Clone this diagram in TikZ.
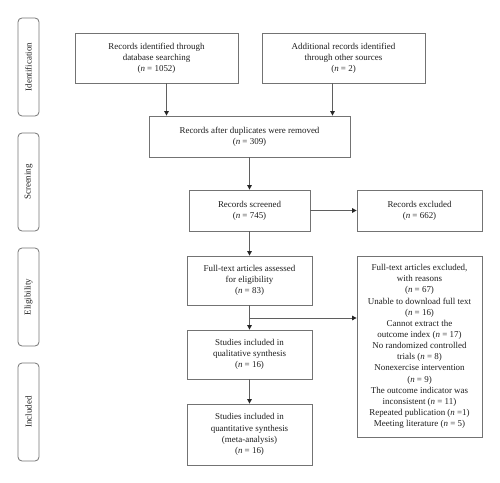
\documentclass[tikz,border=0pt]{standalone}
\usepackage{fontspec}
\setmainfont{Liberation Serif}
\usetikzlibrary{arrows.meta}
\definecolor{lc}{RGB}{115,115,115}
\definecolor{ac}{RGB}{95,95,95}
\definecolor{tc}{RGB}{30,30,30}
\tikzset{
  box/.style={draw=lc, line width=0.8pt, align=center, inner sep=1pt, text=tc,
    font=\fontsize{9}{11.2}\selectfont},
  side/.style={draw=lc, line width=0.8pt, rounded corners=4bp, rotate=90,
    minimum width=98bp, minimum height=21bp, inner sep=0pt, text=tc,
    font=\fontsize{9}{10}\selectfont},
  arr/.style={draw=ac, line width=0.9pt, -{Triangle[length=4.5bp,width=4.5bp,color=black!85]}},
  ln/.style={draw=ac, line width=0.9pt}
}
\begin{document}
\begin{tikzpicture}[x=1bp,y=-1bp]
\useasboundingbox (0,0) rectangle (500,483);
\node[side] (s1) at (28.5,67) {Identification};
\node[side] (s2) at (28.5,182) {Screening};
\node[side] (s3) at (28.5,297) {Eligibility};
\node[side] (s4) at (28.5,412) {Included};

\node[box, minimum width=163bp, minimum height=50bp] (A) at (156.5,58)
  {Records identified through\\database searching\\(\textit{n} = 1052)};
\node[box, minimum width=163bp, minimum height=50bp] (B) at (343.5,58)
  {Additional records identified\\through other sources\\(\textit{n} = 2)};
\node[box, minimum width=201bp, minimum height=41bp] (C) at (249.5,136.5)
  {Records after duplicates were removed\\(\textit{n} = 309)};
\node[box, minimum width=121bp, minimum height=41bp] (D) at (249.5,210.5)
  {Records screened\\(\textit{n} = 745)};
\node[box, minimum width=125bp, minimum height=41bp] (E) at (419.5,210.5)
  {Records excluded\\(\textit{n} = 662)};
\node[box, minimum width=125bp, minimum height=49bp] (F) at (249.5,280.5)
  {Full-text articles assessed\\for eligibility\\(\textit{n} = 83)};
\node[box, minimum width=125bp, minimum height=181bp] (G) at (419.5,346.5)
  {Full-text articles excluded,\\with reasons\\(\textit{n} = 67)\\Unable to download full text\\(\textit{n} = 16)\\Cannot extract the\\outcome index (\textit{n} = 17)\\No randomized controlled\\trials (\textit{n} = 8)\\Nonexercise intervention\\(\textit{n} = 9)\\The outcome indicator was\\inconsistent (\textit{n} = 11)\\Repeated publication (\textit{n} =1)\\Meeting literature (\textit{n} = 5)};
\node[box, minimum width=125bp, minimum height=49bp] (H) at (249.5,354.5)
  {Studies included in\\qualitative synthesis\\(\textit{n} = 16)};
\node[box, minimum width=125bp, minimum height=61bp] (I) at (249.5,434.5)
  {Studies included in\\quantitative synthesis\\(meta-analysis)\\(\textit{n} = 16)};

\coordinate (c1) at ([xshift=-83bp]C.north);
\coordinate (c2) at ([xshift=83bp]C.north);
\draw[arr] (A.south -| c1) -- (c1);
\draw[arr] (B.south -| c2) -- (c2);
\draw[arr] (C.south) -- (D.north);
\draw[arr] (D.east) -- (E.west);
\draw[arr] (D.south) -- (F.north);
\draw[arr] (F.south) -- (H.north);
\coordinate (br) at (250,318);
\draw[arr] (br) -- (br -| G.west);
\draw[arr] (H.south) -- (I.north);
\end{tikzpicture}
\end{document}
